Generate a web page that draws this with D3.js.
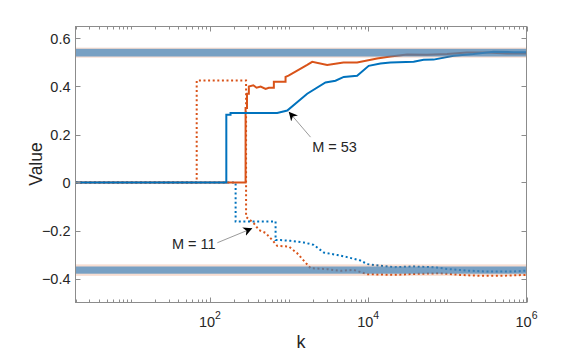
<!DOCTYPE html>
<html>
<head>
<meta charset="utf-8">
<script src="https://cdn.jsdelivr.net/npm/d3@7"></script>
<style>
  body { margin: 0; background: #fff; }
  svg text { font-family: "Liberation Sans", Arial, Helvetica, sans-serif; fill: #262626; }
</style>
</head>
<body>
<svg id="chart" width="581" height="353"></svg>
<script>
// series: [k, value]
const orangeSolid = [
  [2, 0], [282, 0], [282, 0.31], [294, 0.31], [294, 0.37], [310, 0.37], [310, 0.40],
  [353, 0.405], [388, 0.395], [437, 0.40], [505, 0.39], [555, 0.395], [642, 0.395],
  [642, 0.42], [902, 0.42], [902, 0.44], [984, 0.445], [1694, 0.49], [1959, 0.503],
  [3030, 0.49], [4860, 0.50], [7240, 0.50], [12950, 0.517], [19050, 0.525],
  [30960, 0.533], [55350, 0.532], [99000, 0.535], [177000, 0.542], [316000, 0.542],
  [566000, 0.537], [1e6, 0.537]
]
const blueSolid = [
  [2, 0], [161, 0], [161, 0.282], [182, 0.282], [182, 0.29], [708, 0.29], [948, 0.30],
  [1694, 0.37], [2884, 0.417], [3855, 0.424], [4910, 0.44], [7240, 0.445],
  [10140, 0.486], [14250, 0.496], [19050, 0.50], [37500, 0.503], [50120, 0.511],
  [67000, 0.512], [120000, 0.528], [214000, 0.535], [384000, 0.545], [686000, 0.543],
  [1e6, 0.543]
]
const orangeDotted = [
  [2, 0], [68, 0], [68, 0.425], [286, 0.425], [286, -0.143], [359, -0.17], [415, -0.198],
  [505, -0.21], [613, -0.24], [708, -0.264], [993, -0.267], [1267, -0.295],
  [1866, -0.357], [3030, -0.361], [4457, -0.368], [6560, -0.364], [9680, -0.382],
  [21000, -0.385], [37500, -0.381], [81500, -0.378], [145600, -0.385],
  [260000, -0.389], [566000, -0.388], [1e6, -0.385]
]
const blueDotted = [
  [2, 0], [211, 0], [211, -0.163], [675, -0.163], [675, -0.24], [780, -0.24],
  [1043, -0.243], [1535, -0.25], [2052, -0.26], [2744, -0.292], [4052, -0.302],
  [5420, -0.311], [7980, -0.325], [9680, -0.34], [14250, -0.347], [21000, -0.353],
  [37500, -0.35], [67000, -0.353], [99000, -0.36], [177000, -0.367],
  [316000, -0.371], [686000, -0.371], [1e6, -0.367]
]
// reference bands: [center, salmon half width, blue half width]
const bands = [[0.541, 0.021, 0.016], [-0.365, 0.024, 0.015]]
const yTicks = [0.6, 0.4, 0.2, 0, -0.2, -0.4]
const xTicks = [1e2, 1e4, 1e6]
const notes = [
  {text: 'M = 53', tip: [990, 0.295], tail: [1866, 0.189], at: [1960, 0.128], anchor: 'start'},
  {text: 'M = 11', tip: [343, -0.191], tail: [124, -0.251], at: [118, -0.278], anchor: 'end'}
]

const orange = '#D95319'
const blue = '#0072BD'
const axisColor = '#8c8c8c'

const svg = d3.select('#chart')
const x = d3.scaleLog().domain([2, 1e6]).range([75.5, 526.5])
const y = d3.scaleLinear().domain([-0.5, 0.65]).range([302.5, 26.5])

svg.append('defs').append('clipPath')
  .attr('id', 'plot-clip')
  .append('rect')
  .attr('x', 75.5).attr('y', 26.5)
  .attr('width', 451).attr('height', 276)

const plot = svg.append('g').attr('clip-path', 'url(#plot-clip)')
const line = d3.line().x(d => x(d[0])).y(d => y(d[1]))

function drawSeries(data, color, dotted) {
  plot.append('path')
  .datum(data)
  .attr('fill', 'none')
  .attr('stroke', color)
  .attr('stroke-width', 2)
  .attr('stroke-dasharray', dotted ? '2,2.6' : null)
  .attr('d', line)
}

drawSeries(orangeDotted, orange, true)
drawSeries(blueDotted, blue, true)
drawSeries(orangeSolid, orange, false)
drawSeries(blueSolid, blue, false)

// bands sit on top of the lines, partly transparent
bands.forEach(b => {
  plot.append('rect')
  .attr('x', x(2)).attr('width', x(1e6) - x(2))
  .attr('y', y(b[0] + b[1])).attr('height', y(b[0] - b[1]) - y(b[0] + b[1]))
  .attr('fill', orange).attr('fill-opacity', 0.2)
  plot.append('rect')
  .attr('x', x(2)).attr('width', x(1e6) - x(2))
  .attr('y', y(b[0] + b[2])).attr('height', y(b[0] - b[2]) - y(b[0] + b[2]))
  .attr('fill', '#4286bd').attr('fill-opacity', 0.7)
})

// axes box
const axes = svg.append('g')
axes.append('rect')
  .attr('x', 75.5).attr('y', 26.5).attr('width', 451).attr('height', 276)
  .attr('fill', 'none').attr('stroke', axisColor).attr('stroke-width', 1)

yTicks.forEach(t => {
  const yy = Math.round(y(t)) + 0.5
  axes.append('line').attr('x1', 75.5).attr('x2', 80.5).attr('y1', yy).attr('y2', yy)
    .attr('stroke', axisColor)
  axes.append('line').attr('x1', 521.5).attr('x2', 526.5).attr('y1', yy).attr('y2', yy)
    .attr('stroke', axisColor)
  axes.append('text')
    .attr('x', 70.5).attr('y', y(t))
    .attr('text-anchor', 'end').attr('dominant-baseline', 'central')
    .attr('font-size', 14.5)
    .text(t === 0 ? '0' : d3.format('.1f')(t))
})

const minor = []
for (let e = 0; e <= 5; e++) {
  for (let j = 1; j <= 9; j++) {
    const v = j * Math.pow(10, e)
    if (v >= 2 && v <= 1e6 && !xTicks.includes(v)) minor.push(v)
  }
}
minor.forEach(v => {
  const xx = Math.round(x(v)) + 0.5
  axes.append('line').attr('x1', xx).attr('x2', xx).attr('y1', 302.5).attr('y2', 299.5)
    .attr('stroke', axisColor)
  axes.append('line').attr('x1', xx).attr('x2', xx).attr('y1', 26.5).attr('y2', 29.5)
    .attr('stroke', axisColor)
})
xTicks.forEach(v => {
  const xx = Math.round(x(v)) + 0.5
  axes.append('line').attr('x1', xx).attr('x2', xx).attr('y1', 302.5).attr('y2', 297.5)
    .attr('stroke', axisColor)
  axes.append('line').attr('x1', xx).attr('x2', xx).attr('y1', 26.5).attr('y2', 31.5)
    .attr('stroke', axisColor)
  const lbl = axes.append('text')
    .attr('x', x(v) - 11).attr('y', 326.7)
    .attr('font-size', 14.5)
  lbl.append('tspan').text('10')
  lbl.append('tspan').attr('dy', -8).attr('font-size', 10.5).text(Math.log10(v))
})

svg.append('text')
  .attr('x', 301).attr('y', 348)
  .attr('text-anchor', 'middle').attr('font-size', 18)
  .text('k')

svg.append('text')
  .attr('transform', 'translate(41.5,164) rotate(-90)')
  .attr('text-anchor', 'middle').attr('font-size', 17.5)
  .text('Value')

// annotations
svg.append('defs').append('marker')
  .attr('id', 'head')
  .attr('viewBox', '0 0 10 10')
  .attr('refX', 10).attr('refY', 5)
  .attr('markerWidth', 9).attr('markerHeight', 9)
  .attr('markerUnits', 'userSpaceOnUse')
  .attr('orient', 'auto')
  .append('path').attr('d', 'M0,0 L10,5 L0,10 L3,5 Z').attr('fill', '#000')

notes.forEach(n => {
  svg.append('line')
    .attr('x1', x(n.tail[0])).attr('y1', y(n.tail[1]))
    .attr('x2', x(n.tip[0])).attr('y2', y(n.tip[1]))
    .attr('stroke', '#555').attr('stroke-width', 0.6)
    .attr('marker-end', 'url(#head)')
  svg.append('text')
    .attr('x', x(n.at[0])).attr('y', y(n.at[1]))
    .attr('text-anchor', n.anchor).attr('font-size', 14.5)
    .text(n.text)
})
</script>
</body>
</html>
